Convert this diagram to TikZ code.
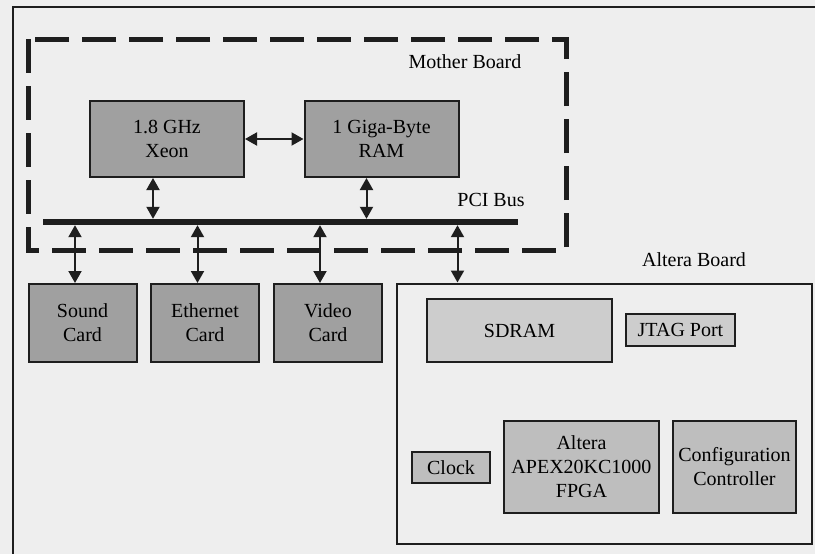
\documentclass[tikz,border=0pt]{standalone}
\usepackage{fontspec}
\setmainfont{Liberation Serif}
\usetikzlibrary{arrows.meta}
\definecolor{bgcol}{RGB}{238,238,238}
\definecolor{darkfill}{RGB}{160,160,160}
\definecolor{midfill}{RGB}{190,190,190}
\definecolor{lightfill}{RGB}{205,205,205}
\definecolor{edgecol}{RGB}{30,30,30}
\tikzset{
  blk/.style={draw=edgecol, line width=2pt, inner sep=0pt, align=center, font=\fontsize{20}{24}\selectfont},
  darkbox/.style={blk, fill=darkfill},
  midbox/.style={blk, fill=midfill},
  lightbox/.style={blk, fill=lightfill},
  lbl/.style={inner sep=0pt, font=\fontsize{20}{24}\selectfont},
  dbl/.style={line width=2pt, draw=edgecol, {Triangle[length=12pt,width=13pt]}-{Triangle[length=12pt,width=13pt]}},
}
\begin{document}
\begin{tikzpicture}[x=1pt,y=-1pt]
\useasboundingbox (0,0) rectangle (815,554);
\fill[bgcol] (0,0) rectangle (815,554);
% outer frame
\draw[edgecol, line width=2pt] (13,554) -- (13,7) -- (815,7);
% mother board dashed box
\draw[edgecol, line width=5pt, dash pattern=on 34pt off 13pt] (28,39) rectangle (566,250);
\node[lbl] (mblabel) at (465,62) {Mother Board};
% CPU and RAM
\node[darkbox, minimum width=154pt, minimum height=76pt] (xeon) at (167,139) {1.8 GHz\\Xeon};
\node[darkbox, minimum width=154pt, minimum height=76pt] (ram) at (381.5,139) {1 Giga-Byte\\RAM};
\draw[dbl] (xeon.east) -- (ram.west);
% PCI bus
\node[fill=edgecol, minimum width=475pt, minimum height=6pt, inner sep=0pt] (bus) at (280.5,222) {};
\node[lbl] (pcilabel) at (491,200) {PCI Bus};
\draw[dbl] ([xshift=-14pt]xeon.south) -- ([xshift=-14pt]xeon.south |- bus.north);
\draw[dbl] ([xshift=-15pt]ram.south) -- ([xshift=-15pt]ram.south |- bus.north);
% cards
\node[darkbox, minimum width=108pt, minimum height=78pt] (sound) at (82.5,323) {Sound\\Card};
\node[darkbox, minimum width=108pt, minimum height=78pt] (eth) at (205,323) {Ethernet\\Card};
\node[darkbox, minimum width=108pt, minimum height=78pt] (video) at (328,323) {Video\\Card};
\draw[dbl] ([xshift=-7.5pt]sound.north) -- ([xshift=-7.5pt]sound.north |- bus.south);
\draw[dbl] ([xshift=-7.5pt]eth.north) -- ([xshift=-7.5pt]eth.north |- bus.south);
\draw[dbl] ([xshift=-8pt]video.north) -- ([xshift=-8pt]video.north |- bus.south);
% Altera board
\node[draw=edgecol, line width=2pt, fill=bgcol, minimum width=415pt, minimum height=260pt, inner sep=0pt] (altera) at (604,413.5) {};
\node[lbl] (altlabel) at (694,260) {Altera Board};
\draw[dbl] ([xshift=62pt]altera.north west) -- ([xshift=62pt]altera.north west |- bus.south);
\node[lightbox, minimum width=185pt, minimum height=63pt] (sdram) at (519.5,330.5) {SDRAM};
\node[lightbox, minimum width=109pt, minimum height=32pt] (jtag) at (680.5,330) {JTAG Port};
\node[midbox, minimum width=78pt, minimum height=31pt] (clock) at (451,467.5) {Clock};
\node[midbox, minimum width=155pt, minimum height=92pt] (fpga) at (581.5,467) {Altera\\APEX20KC1000\\FPGA};
\node[midbox, minimum width=123pt, minimum height=92pt] (config) at (734.5,467) {Configuration\\Controller};
\end{tikzpicture}
\end{document}
